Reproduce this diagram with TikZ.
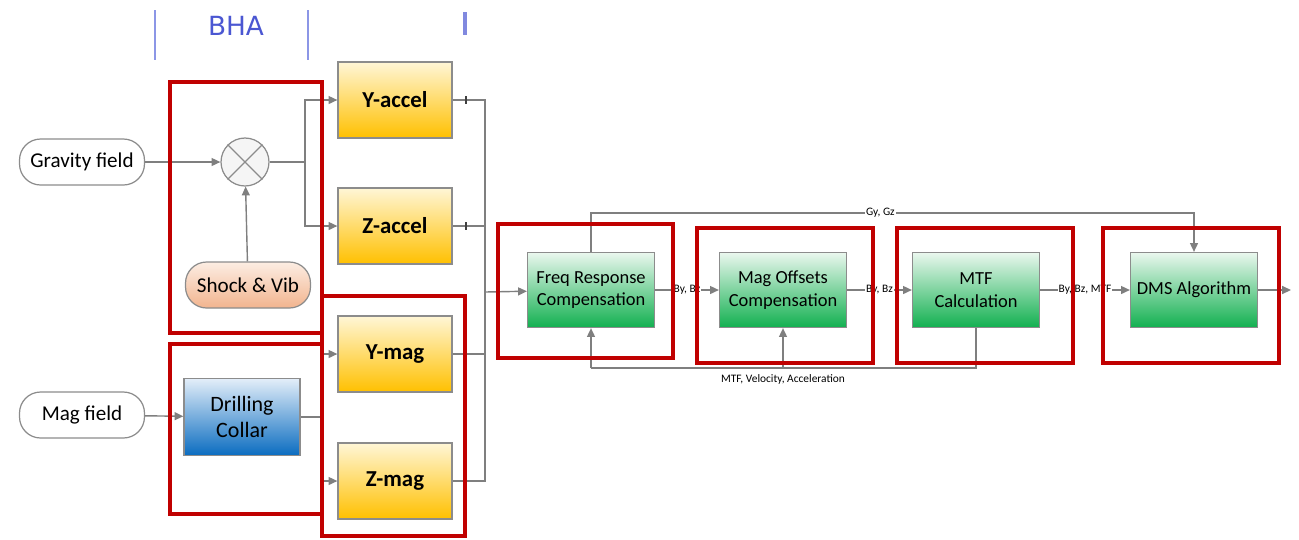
\documentclass[tikz,border=0pt]{standalone}
\usepackage{fontspec}
\setmainfont{Carlito}
\newfontfamily\bhafont{DejaVu Sans}
\usepackage{tikz}
\usetikzlibrary{arrows.meta, positioning, calc}
\definecolor{wireGray}{HTML}{7F7F7F}
\definecolor{edgeGray}{HTML}{8C8C8C}
\definecolor{frameRed}{HTML}{C00000}
\definecolor{bhaBlue}{HTML}{4B57D2}
\definecolor{bhaLine}{HTML}{8C96E6}
\definecolor{accTop}{HTML}{FFF6D6}
\definecolor{accBot}{HTML}{FFC000}
\definecolor{grnTop}{HTML}{EAF7EE}
\definecolor{grnBot}{HTML}{12B050}
\definecolor{bluTop}{HTML}{E3EEF9}
\definecolor{bluBot}{HTML}{0A6CC0}
\definecolor{vibTop}{HTML}{FCEDE3}
\definecolor{vibBot}{HTML}{F2B48E}

\begin{document}
\begin{tikzpicture}[
  x=0.02cm, y=-0.02cm,
  field/.style={draw=edgeGray, line width=0.7pt, fill=white, rounded corners=12pt,
                minimum width=2.5cm, minimum height=0.92cm, font=\fontsize{12}{14}\selectfont},
  sensor/.style={draw=edgeGray, line width=0.7pt, top color=accTop, bottom color=accBot,
                 minimum width=2.28cm, minimum height=1.52cm, font=\fontsize{13}{15}\selectfont\bfseries},
  proc/.style={draw=edgeGray, line width=0.7pt, top color=grnTop, bottom color=grnBot,
               minimum width=2.54cm, minimum height=1.5cm, align=center,
               font=\fontsize{10.5}{13}\selectfont},
  conn/.style={draw=wireGray, line width=0.8pt},
  tip/.style={conn, -{Triangle[length=5pt, width=4.5pt]}},
  sig/.style={fill=white, inner sep=0.5pt, font=\fontsize{6.5}{7.5}\selectfont},
  frame/.style={draw=frameRed, line width=2.3pt},
]
  \useasboundingbox (0,0) rectangle (1299,539);

  % header
  \node[font=\bhafont\fontsize{15}{17}\selectfont, text=bhaBlue] (bha) at (236,26) {BHA};
  \draw[bhaLine, line width=1pt] (155,10) -- (155,60);
  \draw[bhaLine, line width=1pt] (308,10) -- (308,60);
  \draw[bhaBlue!70, line width=2.4pt] (465,12) -- (465,35);

  % inputs and BHA
  \node[field] (grav) at (82,162) {Gravity field};
  \node[field] (magf) at (82,415) {Mag field};
  \node[circle, draw=edgeGray, line width=0.7pt, fill=gray!8, minimum size=0.96cm] (mult) at (245,162) {};
  \draw[edgeGray, line width=0.7pt] (mult.north west) -- (mult.south east)
                                    (mult.south west) -- (mult.north east);
  \node[field, top color=vibTop, bottom color=vibBot] (shock) at (248,285) {Shock \& Vib};
  \node[draw=edgeGray, line width=0.7pt, top color=bluTop, bottom color=bluBot,
        minimum width=2.32cm, minimum height=1.54cm, align=center,
        font=\fontsize{12.5}{15}\selectfont] (coll) at (242,417) {Drilling\\Collar};

  % sensors
  \node[sensor] (yacc) at (395,100) {Y-accel};
  \node[sensor] (zacc) at (395,226) {Z-accel};
  \node[sensor] (ymag) at (395,354) {Y-mag};
  \node[sensor] (zmag) at (395,481) {Z-mag};

  % processing chain
  \node[proc] (freq) at (591,290) {Freq Response\\Compensation};
  \node[proc] (mago) at (783,290) {Mag Offsets\\Compensation};
  \node[proc] (mtf)  at (976,290) {MTF\\Calculation};
  \node[proc] (dms)  at (1194,290) {DMS Algorithm};

  \coordinate (j1) at (305,162);
  \coordinate (j2) at (322,417);
  \coordinate (bus) at (485,292);
  \coordinate (out) at (1291,290);
  \path (freq.north) ++(0,-39) coordinate (topl);
  \path (mtf.south) ++(0,40) coordinate (botr);
  \path (freq.south |- botr) coordinate (botl);
  \path (mago.south |- botr) coordinate (botm);

  \draw[tip] (grav) -- (mult);
  \draw[tip] (shock) -- (mult);
  \draw[conn] (mult) -- (j1);
  \draw[tip] (j1) |- (yacc);
  \draw[tip] (j1) |- (zacc);
  \draw[tip] (magf) -- (coll);
  \draw[conn] (coll) -- (j2);
  \draw[tip] (j2) |- (ymag);
  \draw[tip] (j2) |- (zmag);

  \foreach \s in {yacc,zacc,ymag,zmag}{
    \draw[conn] (\s.east) -| (bus);
    \draw[black!75, line width=1.2pt] ($(\s.east)+(13,-4)$) -- ++(0,8);
  }
  \draw[tip] (bus) -- (freq);

  \draw[tip] (freq) -- node[sig] (l1) {By, Bz} (mago);
  \draw[tip] (mago) -- node[sig] (l2) {By, Bz} (mtf);
  \draw[tip] (mtf) -- node[sig] (l3) {By, Bz, MTF} (dms);
  \draw[tip] (dms) -- (out);

  \draw[tip] (freq.north) -- (topl) -| node[sig, pos=0.24] (l4) {Gy, Gz} (dms.north);
  \draw[conn] (mtf.south) -- (botr) -- (botl);
  \draw[tip] (botl) -- (freq.south);
  \draw[tip] (botm) -- (mago.south);
  \node[font=\fontsize{6.5}{7.5}\selectfont, below=0pt of botm] (l5) {MTF, Velocity, Acceleration};

  % stage frames
  \draw[frame] (170,82) rectangle (322,333);
  \draw[frame] (170,344) rectangle (322,514);
  \draw[frame] (322,296) rectangle (465,536);
  \draw[frame] (498,224) rectangle (673,358);
  \draw[frame] (697,228) rectangle (873,363);
  \draw[frame] (897,228) rectangle (1073,363);
  \draw[frame] (1103,228) rectangle (1279,363);
\end{tikzpicture}
\end{document}
